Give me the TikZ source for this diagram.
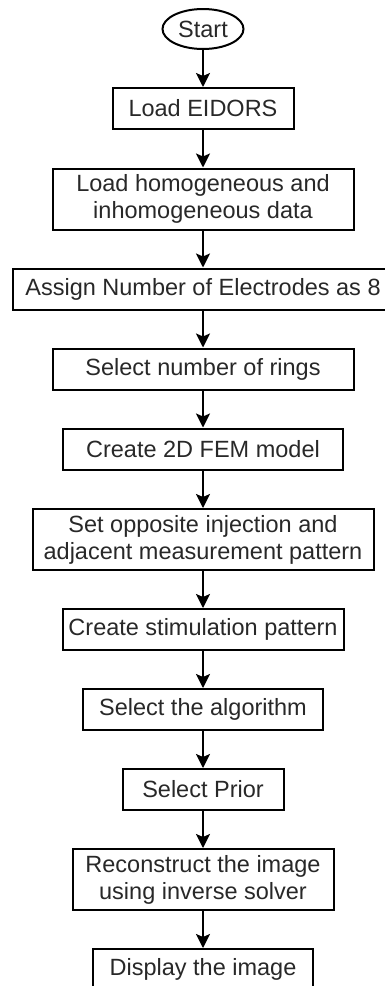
\documentclass[tikz,border=0pt]{standalone}
\usepackage{fontspec}
\setmainfont{Liberation Sans}
\usepackage{tikz}
\usetikzlibrary{arrows.meta, shapes.geometric}
\definecolor{flowtext}{RGB}{40, 40, 40}

\tikzset{
  box/.style={draw, rectangle, line width=1pt, inner sep=0pt, align=center,
    text=flowtext, minimum height=20.5pt},
  boxtwo/.style={box, minimum height=30.5pt},
  flow/.style={->, line width=1pt}
}

\begin{document}
\begin{tikzpicture}[x=0.5pt, y=-0.5pt, >={Stealth[length=7pt, width=7pt, inset=1.5pt]},
  font=\fontsize{11.75}{13.5}\selectfont]
  \useasboundingbox (0,0) rectangle (385,986);
  \clip (0,0) rectangle (385,986);

  % Start
  \node[draw, ellipse, line width=1pt, inner sep=0pt, text=flowtext,
    minimum width=40.5pt, minimum height=20pt] (start) at (203, 29) {Start};

  % Steps
  \node[box, minimum width=90.5pt] (eidors) at (203, 108.5) {Load EIDORS};
  \node[boxtwo, minimum width=150.5pt] (data) at (203, 199)
    {Load homogeneous and\\inhomogeneous data};
  \node[box, minimum width=190pt] (elec) at (203, 289) {Assign Number of Electrodes as 8};
  \node[box, minimum width=150.5pt] (rings) at (203, 369) {Select number of rings};
  \node[box, minimum width=140pt] (fem) at (203, 449) {Create 2D FEM model};
  \node[boxtwo, minimum width=170.5pt] (pattern) at (203, 539.5)
    {Set opposite injection and\\adjacent measurement pattern};
  \node[box, minimum width=140.5pt] (stim) at (203, 629.5) {Create stimulation pattern};
  \node[box, minimum width=120pt] (algo) at (203, 709.5) {Select the algorithm};
  \node[box, minimum width=80.5pt] (prior) at (203, 789.5) {Select Prior};
  \node[boxtwo, minimum width=130.5pt] (recon) at (203, 879.5)
    {Reconstruct the image\\using inverse solver};
  \node[box, minimum width=110pt] (show) at (203, 969.5) {Display the image};

  % Arrows
  \foreach \a/\b in {start/eidors, eidors/data, data/elec, elec/rings, rings/fem,
      fem/pattern, pattern/stim, stim/algo, algo/prior, prior/recon, recon/show}
    \draw[flow] (\a) -- (\b);
\end{tikzpicture}
\end{document}
